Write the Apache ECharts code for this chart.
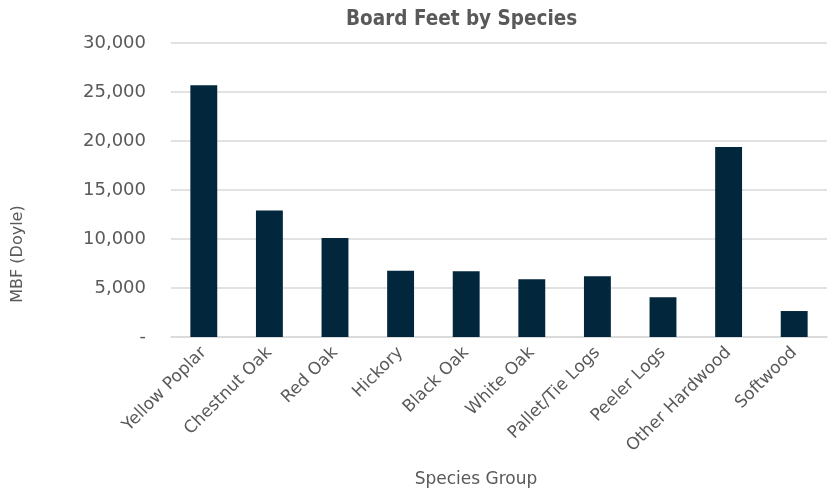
<!DOCTYPE html>
<html>
<head>
<meta charset="utf-8">
<script src="https://cdn.jsdelivr.net/npm/echarts@6/dist/echarts.min.js"></script>
<style>
  html, body { margin: 0; padding: 0; background: #fff; }
  #chart { width: 833px; height: 490px; }
</style>
</head>
<body>
<div id="chart"></div>
<script>
// species groups and volumes (MBF, Doyle)
var species = ['Yellow Poplar', 'Chestnut Oak', 'Red Oak', 'Hickory', 'Black Oak',
  'White Oak', 'Pallet/Tie Logs', 'Peeler Logs', 'Other Hardwood', 'Softwood']
var mbf = [25700, 12900, 10100, 6750, 6700, 5900, 6200, 4050, 19400, 2650]
var yTicks = { min: 0, max: 30000, step: 5000 }

var textColor = '#595959'
var font = '"DejaVu Sans", sans-serif'

var chart = echarts.init(document.getElementById('chart'))
var option = {
  animation: false,
  title: {
    text: 'Board Feet by Species',
    left: 341,
    top: 4,
    textStyle: {
      color: textColor,
      fontSize: 20.5,
      fontWeight: 'bold',
      fontFamily: '"Liberation Sans Narrow", "DejaVu Sans Condensed", sans-serif'
    }
  },
  grid: {
    left: 171,
    right: 6,
    top: 43,
    bottom: 153,
    outerBoundsMode: 'none'
  },
  xAxis: {
    type: 'category',
    data: species,
    name: 'Species Group',
    nameLocation: 'middle',
    nameGap: 134,
    nameTextStyle: {
      color: textColor,
      fontSize: 17,
      fontFamily: font,
      padding: [0, 46, 0, 0]
    },
    axisTick: { show: false },
    axisLine: { lineStyle: { color: '#d9d9d9', width: 1.5 } },
    axisLabel: {
      rotate: 45,
      color: textColor,
      fontSize: 17,
      fontFamily: font,
      margin: 13
    }
  },
  yAxis: {
    type: 'value',
    min: yTicks.min,
    max: yTicks.max,
    interval: yTicks.step,
    name: 'MBF (Doyle)',
    nameLocation: 'middle',
    nameGap: 145,
    nameTextStyle: {
      color: textColor,
      fontSize: 16,
      fontFamily: font,
      padding: [0, 128, 0, 0]
    },
    axisLabel: {
      color: textColor,
      fontSize: 18,
      fontFamily: font,
      margin: 25,
      formatter: function (v) {
        return v === 0 ? '-' : v.toLocaleString('en-US')
      }
    },
    splitLine: { lineStyle: { color: '#d9d9d9', width: 1.5 } }
  },
  series: [{
    type: 'bar',
    data: mbf,
    barWidth: '41%',
    itemStyle: { color: '#02263b' }
  }]
}
chart.setOption(option)
</script>
</body>
</html>
